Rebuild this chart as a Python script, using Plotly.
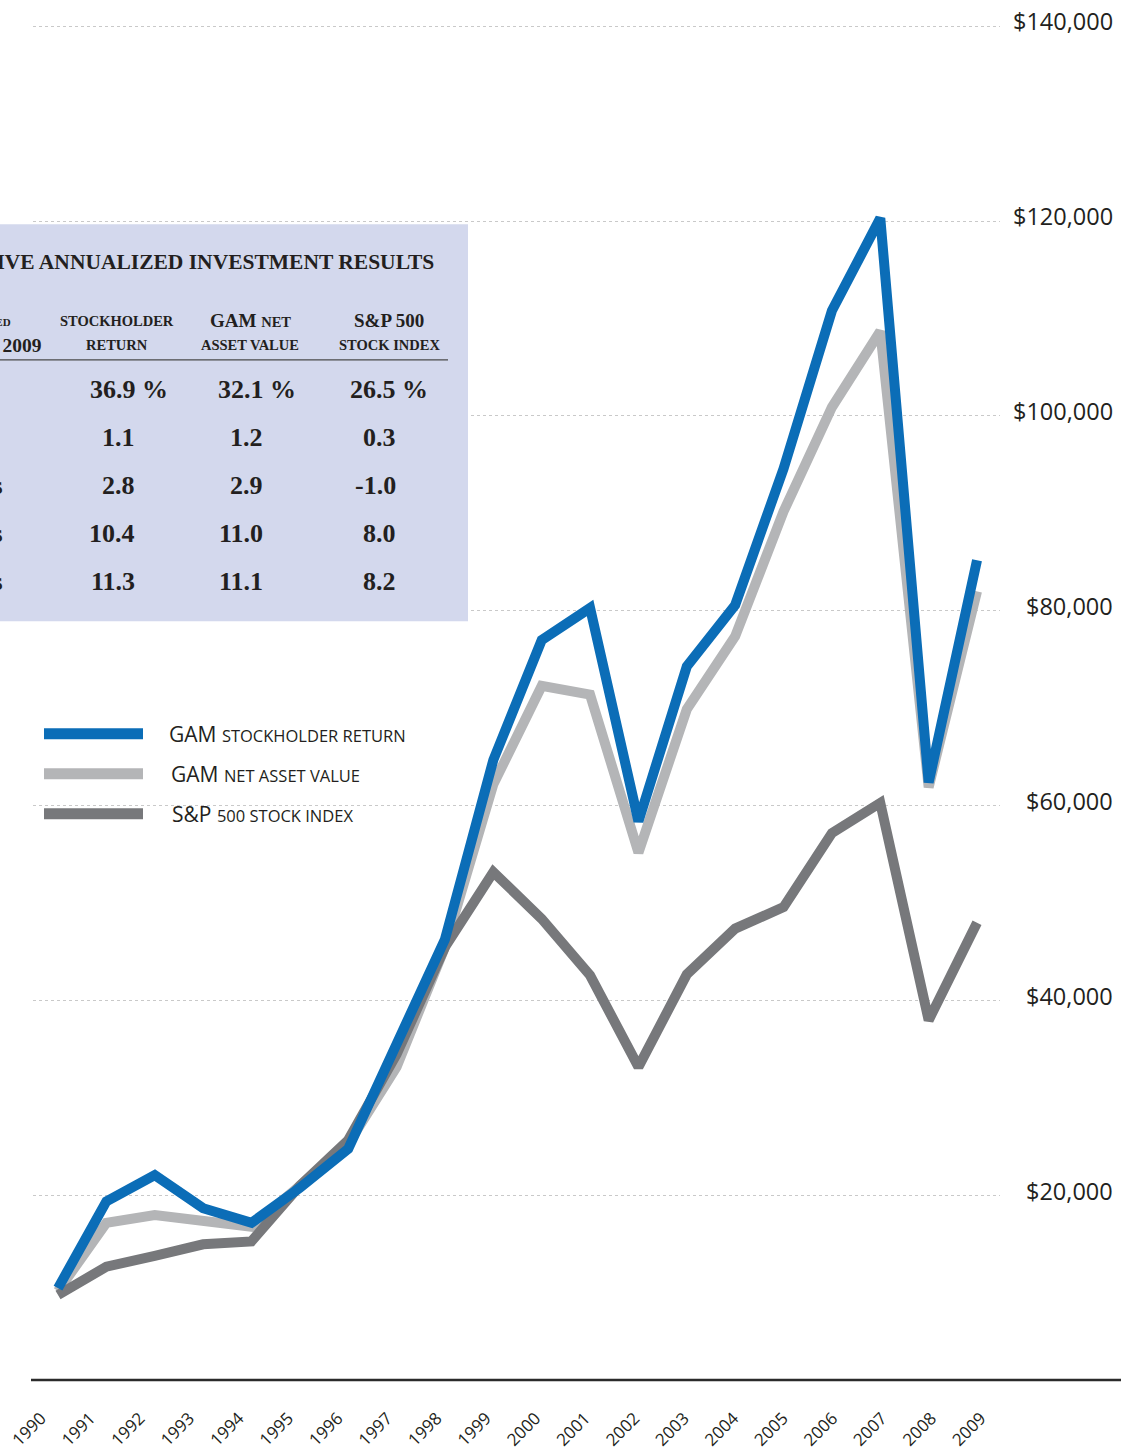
import plotly.graph_objects as go

# ---------------- data ----------------
years = list(range(1990, 2010))
year_labels = [str(y) for y in years]

gam_stockholder_return = [10500, 19400, 22100, 18700, 17200, 20800, 24800, 35500, 46300, 64700,
                          77000, 80300, 58400, 74300, 80600, 94600, 110800, 120300, 62400, 85200]
gam_net_asset_value = [10200, 17200, 18000, 17500, 16800, 21000, 25300, 33200, 45500, 62200,
                       72300, 71400, 55200, 69900, 77400, 90200, 100900, 108700, 61900, 82000]
sp500_stock_index = [9800, 12700, 13800, 15000, 15300, 21000, 25700, 34500, 45500, 53200,
                     48400, 42600, 33200, 42700, 47400, 49600, 57200, 60300, 38000, 48000]

y_tick_values = [20000, 40000, 60000, 80000, 100000, 120000, 140000]
y_tick_labels = ["$20,000", "$40,000", "$60,000", "$80,000", "$100,000", "$120,000", "$140,000"]

series_names = ["GAM stockholder return", "GAM net asset value", "S&P 500 stock index"]
legend_big = ["GAM", "GAM", "S&amp;P"]
legend_small = ["STOCKHOLDER RETURN", "NET ASSET VALUE", "500 STOCK INDEX"]
series_colors = ["#0b6db7", "#b4b5b7", "#77787b"]

table_title = "COMPARATIVE ANNUALIZED INVESTMENT RESULTS"
table_periods = ["1 Year", "5 Years", "10 Years", "15 Years", "20 Years"]
table_stockholder = ["36.9 %", "1.1", "2.8", "10.4", "11.3"]
table_nav = ["32.1 %", "1.2", "2.9", "11.0", "11.1"]
table_sp = ["26.5 %", "0.3", "-1.0", "8.0", "8.2"]

# ---------------- layout geometry ----------------
W, H = 1131, 1451
ML, MR, MT, MB = 33, 131, 0, 67
PW = W - ML - MR
PH = H - MT - MB


def px2x(rx):
    return (rx - ML) / PW


def py2y(ry):
    return (MT + PH - ry) / PH


fig = go.Figure()

draw_order = [1, 2, 0]
series_values = [gam_stockholder_return, gam_net_asset_value, sp500_stock_index]
for i in draw_order:
    fig.add_trace(go.Scatter(
        x=years, y=series_values[i], mode="lines", name=series_names[i],
        line=dict(color=series_colors[i], width=10), showlegend=False,
        hoverinfo="x+y+name"))

# carrier trace for the year-label axis (no visible marks)
fig.add_trace(go.Scatter(x=years, y=sp500_stock_index, xaxis="x2", mode="lines",
                         line=dict(width=0), opacity=0, showlegend=False, hoverinfo="skip"))

serif = "Liberation Serif"
sans = "Open Sans"
dark = "#231f20"

shapes = []
annotations = []

# table background
shapes.append(dict(type="rect", xref="paper", yref="paper",
                   x0=px2x(-5), x1=px2x(468), y0=py2y(623), y1=py2y(225),
                   fillcolor="#d3d8ed", line=dict(width=0), layer="above"))
# header rule
shapes.append(dict(type="line", xref="paper", yref="paper",
                   x0=px2x(-5), x1=px2x(448), y0=py2y(361), y1=py2y(361),
                   line=dict(color="#4a4a4a", width=1.2), layer="above"))

# bottom axis line
shapes.append(dict(type="line", xref="paper", yref="paper",
                   x0=px2x(31), x1=px2x(1121), y0=0, y1=0,
                   line=dict(color="#2b2b2b", width=2.5), layer="above"))


def ann(text, px, py, size, family=serif, anchor="center", color=dark, variant=None):
    f = dict(family=family, size=size, color=color)
    if variant:
        f["variant"] = variant
    annotations.append(dict(text=text, xref="paper", yref="paper", x=px2x(px), y=py2y(py),
                            xanchor=anchor, yanchor="middle", showarrow=False, font=f))


# table title
ann("<b>" + table_title + "</b>", 436, 263, 21.5, anchor="right")
# header
ann("<b>Periods ended</b>", 13, 322, 15, anchor="right", variant="small-caps")
ann("<b>Dec. 31, 2009</b>", 44, 346, 19.5, anchor="right")
ann("<b>STOCKHOLDER</b>", 117, 322, 14.5)
ann("<b>RETURN</b>", 117, 346, 14.5)
ann("<b>GAM <span style='font-size:14.5px'>NET</span></b>", 250, 321, 19)
ann("<b>ASSET VALUE</b>", 250, 346, 14.5)
ann("<b>S&amp;P 500</b>", 389, 321, 19)
ann("<b>STOCK INDEX</b>", 389, 346, 14.5)

row_y = [391, 439, 487, 535, 583]
row_end = [-12, -4, 5, 5, 5]
for r in range(5):
    ann("<b>" + table_periods[r] + "</b>", row_end[r], row_y[r], 26, anchor="right")
    if r == 0:
        ann("<b>" + table_stockholder[r] + "</b>", 88, row_y[r], 26, anchor="left")
        ann("<b>" + table_nav[r] + "</b>", 216, row_y[r], 26, anchor="left")
        ann("<b>" + table_sp[r] + "</b>", 348, row_y[r], 26, anchor="left")
    else:
        ann("<b>" + table_stockholder[r] + "</b>", 137, row_y[r], 26, anchor="right")
        ann("<b>" + table_nav[r] + "</b>", 265, row_y[r], 26, anchor="right")
        ann("<b>" + table_sp[r] + "</b>", 398, row_y[r], 26, anchor="right")

# legend
legend_y = [736, 776, 816]
legend_text_x = [167, 169, 170]
for k in range(3):
    shapes.append(dict(type="line", xref="paper", yref="paper",
                       x0=px2x(44), x1=px2x(143), y0=py2y(legend_y[k]), y1=py2y(legend_y[k]),
                       line=dict(color=series_colors[k], width=11), layer="above"))
    ann(legend_big[k] + " <span style='font-size:16.5px'>" + legend_small[k] + "</span>",
        legend_text_x[k], legend_y[k], 21, family=sans, anchor="left")

# y-axis labels on the right (right-aligned)
for v, t in zip(y_tick_values, y_tick_labels):
    annotations.append(dict(text=t, xref="paper", yref="y", x=1, y=v, xanchor="right",
                            yanchor="middle", xshift=115, yshift=5, showarrow=False,
                            font=dict(family=sans, size=23.5, color=dark)))

# year-label axis: ticks placed as in the reference (labels drift slightly from points)
lab_a = 1990 - (41 - 33) / 49.47
lab_b = lab_a + PW / 49.47

fig.update_layout(
    width=W, height=H,
    margin=dict(l=ML, r=MR, t=MT, b=MB),
    paper_bgcolor="white", plot_bgcolor="white",
    shapes=shapes, annotations=annotations,
    showlegend=False,
    xaxis=dict(range=[1989.483, 2009.475], tickvals=years, showticklabels=False,
               showgrid=False, zeroline=False, showline=False, ticks=""),
    xaxis2=dict(range=[lab_a, lab_b], overlaying="x", side="bottom", anchor="y",
                tickvals=years, ticktext=year_labels, tickangle=-45,
                showgrid=False, zeroline=False, showline=False, ticks="",
                ticklabelstandoff=24, ticklabeloverflow="allow",
                tickfont=dict(family=sans, size=17, color=dark)),
    yaxis=dict(range=[(1394.5 - 1384) / 9.773 * 1000, (1394.5 - 0) / 9.773 * 1000],
               tickvals=y_tick_values, showticklabels=False,
               showgrid=True, gridcolor="#c9c9c9", gridwidth=1, griddash="dot",
               zeroline=False, showline=False, ticks=""),
)

fig.write_html("out.html", config={"displayModeBar": False},
               post_script="document.body.style.margin='0px';document.body.style.overflow='hidden';")
